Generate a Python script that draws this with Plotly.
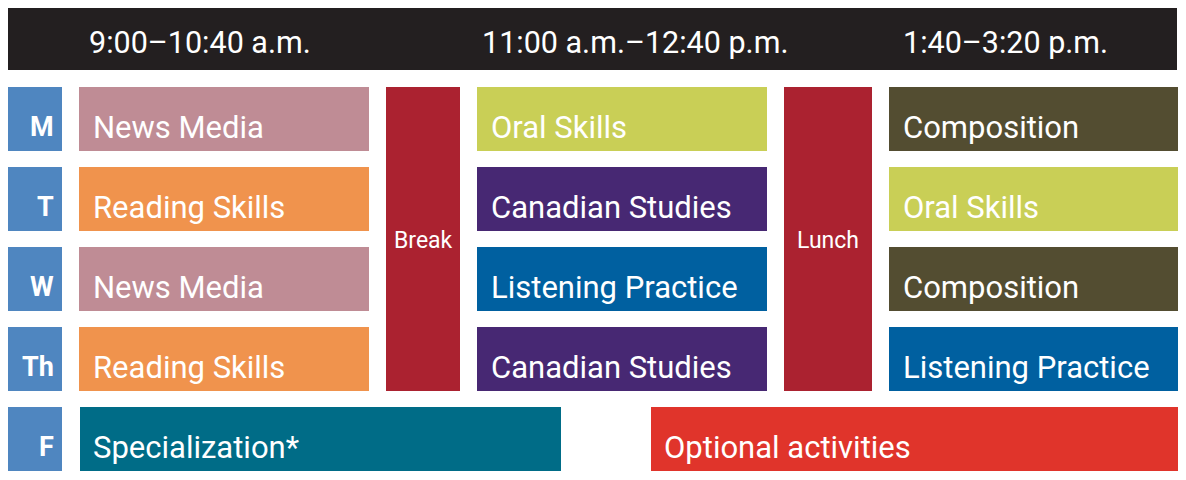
import plotly.graph_objects as go

# ---------------- data ----------------
days = ["M", "T", "W", "Th", "F"]
time_slots = ["9:00–10:40 a.m.", "11:00 a.m.–12:40 p.m.", "1:40–3:20 p.m."]
morning = ["News Media", "Reading Skills", "News Media", "Reading Skills"]
midday = ["Oral Skills", "Canadian Studies", "Listening Practice", "Canadian Studies"]
afternoon = ["Composition", "Oral Skills", "Composition", "Listening Practice"]
friday = ["Specialization*", "Optional activities"]
pauses = ["Break", "Lunch"]

# ---------------- styles ----------------
course_colors = {
    "News Media": "#bf8c95",
    "Reading Skills": "#f0934d",
    "Oral Skills": "#c9cf56",
    "Canadian Studies": "#472873",
    "Listening Practice": "#0060a0",
    "Composition": "#534d31",
    "Specialization*": "#006c87",
    "Optional activities": "#e0342b",
}
pause_color = "#ab2230"
day_color = "#4f86c0"
header_color = "#231f20"
FONT = "Roboto"

# ---------------- layout geometry (pixel-like units) ----------------
PAGE_W, PAGE_H, BODY_MARGIN = 1186, 480, 8
W, H = PAGE_W - 2 * BODY_MARGIN, PAGE_H - 2 * BODY_MARGIN
row_top0, row_pitch, row_h = 87, 80, 64
day_x = (7, 62)
col_x = [(79, 369), (477, 767), (889, 1179)]
pause_x = [(386, 460), (784, 872)]
fri_x = [(80, 561), (651, 1179)]
header_x, header_y = (7, 1177), (7, 70)
header_text_x = [200, 635, 1005]
pad = 12

def row_center(i):
    return row_top0 + i * row_pitch + row_h / 2

fig = go.Figure()
annotations = []

def add_bars(x_ranges, centers, heights, colors):
    fig.add_trace(go.Bar(
        orientation="h",
        y=centers,
        x=[b - a for a, b in x_ranges],
        base=[a for a, b in x_ranges],
        width=heights,
        marker=dict(color=colors, line=dict(width=0)),
        hoverinfo="skip",
        showlegend=False,
    ))

def label(x, y, text, size, anchor="left", bold=False):
    annotations.append(dict(
        x=x, y=y, xref="x", yref="y", text=text, showarrow=False,
        xanchor=anchor, yanchor="middle",
        font=dict(family=FONT, size=size, color="white",
                  weight="bold" if bold else "normal"),
    ))

# header
add_bars([header_x], [(header_y[0] + header_y[1]) / 2],
         [header_y[1] - header_y[0]], [header_color])
for t, x in zip(time_slots, header_text_x):
    label(x, 42, t, 30.5, anchor="center")

# day boxes
add_bars([day_x] * len(days), [row_center(i) for i in range(len(days))],
         [row_h] * len(days), [day_color] * len(days))
for i, d in enumerate(days):
    label(day_x[1] - 6, row_center(i) + 8, d, 27, anchor="right", bold=True)

# Mon–Thu courses
for slot, courses in enumerate([morning, midday, afternoon]):
    n = len(courses)
    add_bars([col_x[slot]] * n, [row_center(i) for i in range(n)],
             [row_h] * n, [course_colors[c] for c in courses])
    for i, c in enumerate(courses):
        label(col_x[slot][0] + pad, row_center(i) + 8, c, 31)

# breaks
top = row_top0
bottom = row_top0 + 3 * row_pitch + row_h
add_bars(pause_x, [(top + bottom) / 2] * 2, [bottom - top] * 2, [pause_color] * 2)
for p, (a, b) in zip(pauses, pause_x):
    label((a + b) / 2, 240, p, 23, anchor="center")

# Friday
add_bars(fri_x, [row_center(4)] * 2, [row_h] * 2, [course_colors[c] for c in friday])
for c, (a, b) in zip(friday, fri_x):
    label(a + pad - 1, row_center(4) + 8, c, 31)

fig.update_layout(
    width=W, height=H,
    margin=dict(l=0, r=0, t=0, b=0),
    paper_bgcolor="white", plot_bgcolor="white",
    barmode="overlay", bargap=0,
    xaxis=dict(range=[BODY_MARGIN, BODY_MARGIN + W], visible=False, fixedrange=True),
    yaxis=dict(range=[BODY_MARGIN + H, BODY_MARGIN], visible=False, fixedrange=True),
    annotations=annotations,
)
fig.write_html("out.html", config={"displayModeBar": False})
